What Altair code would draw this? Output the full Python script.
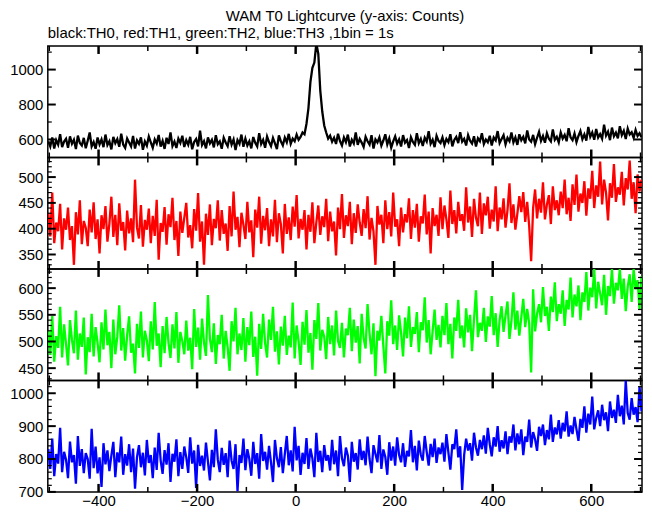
import altair as alt
import pandas as pd

# time bins (s), 4-s sampling of the 1-s light curve
T0 = -502
BIN = 4

TH0 = [590, 560, 612, 548, 596, 570, 630, 556, 588, 604,
       552, 618, 575, 598, 545, 622, 580, 566, 609, 550,
       593, 640, 560, 585, 547, 611, 572, 600, 556, 628,
       568, 590, 543, 615, 579, 602, 558, 633, 571, 552,
       606, 583, 560, 620, 548, 595, 575, 612, 541, 589,
       565, 617, 584, 553, 600, 577, 626, 559, 592, 546,
       610, 574, 640, 562, 588, 551, 605, 580, 621, 557,
       596, 570, 615, 544, 586, 603, 560, 650, 568, 590,
       549, 612, 578, 598, 555, 624, 573, 589, 547, 610,
       583, 562, 619, 571, 600, 540, 596, 575, 628, 558,
       605, 566, 590, 549, 614, 581, 560, 636, 574, 598,
       553, 617, 585, 562, 609, 578, 545, 623, 590, 566,
       611, 584, 632, 575, 605, 590, 628, 598, 615, 640,
       630, 690, 780, 930, 1010, 1040, 1150, 1090, 880, 760,
       680, 640, 605, 622, 587, 610, 574, 633, 591, 566,
       612, 585, 628, 560, 598, 577, 640, 569, 603, 582,
       557, 615, 590, 571, 624, 548, 600, 583, 612, 565,
       594, 630, 572, 606, 553, 589, 618, 576, 601, 560,
       625, 582, 597, 551, 613, 586, 570, 636, 579, 604,
       563, 610, 588, 647, 575, 598, 556, 621, 592, 580,
       612, 568, 603, 585, 630, 561, 597, 615, 579, 642,
       588, 604, 566, 625, 593, 577, 618, 560, 607, 590,
       636, 574, 600, 584, 621, 566, 611, 595, 648, 580,
       603, 625, 572, 609, 590, 640, 583, 612, 569, 630,
       596, 615, 578, 652, 600, 587, 626, 573, 610, 644,
       592, 620, 581, 636, 604, 589, 658, 598, 615, 583,
       640, 605, 626, 590, 664, 612, 596, 634, 585, 620,
       648, 601, 629, 593, 672, 615, 640, 598, 660, 611,
       631, 604, 685, 622, 645, 596, 668, 618, 639, 607,
       676, 625, 650, 603, 662, 628, 641, 610, 655, 620, 636, 612]

TH1 = [430, 385, 470, 372, 412, 395, 448, 360, 420, 398,
       441, 378, 405, 330, 432, 389, 455, 370, 415, 402,
       366, 437, 393, 451, 380, 418, 352, 426, 399, 444,
       375, 410, 462, 384, 427, 368, 449, 396, 413, 358,
       435, 391, 420, 374, 495, 402, 381, 446, 365, 417,
       398, 439, 372, 425, 386, 456, 340, 411, 394, 442,
       369, 428, 403, 460, 378, 415, 347, 433, 392, 421,
       450, 383, 407, 362, 438, 396, 469, 375, 414, 330,
       429, 388, 447, 368, 419, 401, 455, 377, 436, 390,
       410, 357, 444, 385, 472, 398, 423, 364, 431, 408,
       380, 452, 393, 416, 345, 437, 402, 462, 371, 425,
       397, 440, 366, 418, 385, 456, 374, 430, 409, 352,
       448, 390, 422, 378, 443, 404, 465, 381, 419, 398,
       436, 360, 427, 394, 451, 372, 412, 445, 388, 424,
       403, 458, 376, 433, 395, 414, 348, 441, 399, 467,
       382, 426, 405, 452, 370, 430, 392, 447, 412, 386,
       438, 401, 463, 379, 421, 395, 330, 444, 408, 427,
       372, 455, 399, 432, 385, 470, 404, 418, 366, 441,
       393, 428, 412, 459, 380, 436, 402, 448, 375, 424,
       410, 466, 389, 433, 352, 440, 405, 427, 386, 461,
       399, 445, 418, 382, 474, 409, 436, 391, 452, 415,
       428, 396, 480, 412, 443, 384, 458, 421, 405, 470,
       390, 449, 426, 462, 400, 437, 414, 482, 395, 441,
       418, 459, 402, 436, 488, 411, 447, 398, 429, 463,
       432, 471, 413, 452, 405, 337, 440, 476, 420, 458,
       431, 490, 418, 447, 465, 409, 482, 436, 455, 426,
       472, 440, 495, 428, 460, 415, 486, 446, 505, 433,
       468, 450, 492, 425, 478, 458, 512, 440, 484, 462,
       530, 447, 495, 470, 416, 488, 460, 525, 452, 480,
       466, 510, 445, 498, 476, 532, 458, 490, 430, 505, 472, 495]

TH2 = [520, 475, 548, 462, 510, 488, 565, 470, 532, 495,
       455, 540, 503, 478, 558, 466, 515, 490, 545, 438,
       508, 480, 552, 472, 527, 497, 461, 536, 485, 560,
       493, 518, 450, 541, 476, 509, 568, 483, 525, 464,
       512, 547, 479, 496, 440, 533, 488, 556, 470, 520,
       502, 463, 538, 485, 574, 492, 515, 452, 529, 478,
       546, 497, 469, 532, 487, 555, 460, 518, 501, 476,
       539, 483, 507, 448, 561, 490, 526, 466, 543, 498,
       473, 587, 505, 480, 534, 458, 512, 495, 550, 468,
       520, 489, 445, 538, 500, 563, 476, 515, 484, 544,
       462, 527, 493, 556, 471, 509, 436, 533, 486, 552,
       497, 470, 541, 503, 565, 481, 519, 457, 528, 492,
       548, 475, 511, 489, 573, 468, 530, 500, 456, 537,
       494, 559, 479, 516, 447, 540, 505, 572, 483, 522,
       509, 467, 546, 495, 530, 474, 558, 501, 488, 535,
       470, 524, 512, 563, 482, 541, 498, 529, 459, 552,
       506, 487, 570, 515, 476, 534, 435, 520, 502, 548,
       491, 440, 538, 511, 577, 495, 530, 484, 549, 516,
       472, 545, 506, 566, 490, 527, 514, 555, 480, 536,
       521, 583, 498, 540, 476, 519, 560, 503, 531, 489,
       548, 512, 572, 495, 533, 468, 545, 520, 578, 506,
       530, 489, 562, 517, 550, 482, 541, 596, 508, 535,
       520, 563, 499, 547, 528, 585, 512, 553, 490, 540,
       566, 518, 549, 575, 505, 538, 592, 522, 558, 511,
       545, 580, 527, 561, 534, 442, 598, 519, 552, 570,
       536, 602, 548, 565, 520, 584, 555, 611, 538, 570,
       552, 596, 529, 578, 560, 620, 545, 588, 566, 605,
       540, 592, 574, 630, 558, 601, 583, 636, 562, 612,
       590, 568, 625, 550, 604, 585, 636, 571, 610, 596,
       636, 580, 618, 557, 603, 626, 574, 636, 598, 615, 560, 622]

TH3 = [830, 770, 862, 748, 815, 786, 895, 760, 822, 798,
       742, 853, 790, 812, 725, 870, 779, 830, 757, 818,
       800, 740, 892, 772, 838, 756, 805, 715, 848, 784,
       826, 763, 810, 852, 745, 820, 790, 868, 752, 815,
       780, 845, 760, 832, 710, 806, 842, 775, 819, 750,
       858, 788, 812, 742, 835, 767, 880, 796, 755, 827,
       783, 848, 730, 816, 792, 860, 748, 821, 770, 838,
       805, 758, 866, 786, 826, 712, 843, 779, 810, 765,
       850, 792, 735, 828, 775, 890, 798, 760, 834, 782,
       818, 745, 856, 795, 770, 845, 702, 812, 788, 862,
       766, 830, 800, 749, 852, 785, 818, 740, 876, 794,
       822, 768, 840, 790, 730, 858, 802, 775, 836, 757,
       815, 870, 781, 826, 762, 898, 796, 840, 752, 819,
       785, 864, 770, 832, 802, 745, 880, 791, 825, 760,
       842, 795, 812, 765, 858, 784, 826, 748, 870, 802,
       778, 835, 810, 730, 852, 792, 818, 768, 860, 797,
       825, 781, 868, 800, 757, 842, 815, 790, 873, 770,
       829, 806, 752, 851, 795, 838, 780, 866, 812, 790,
       848, 776, 825, 808, 888, 790, 840, 765, 856, 813,
       795, 870, 822, 780, 846, 806, 862, 788, 835, 815,
       850, 792, 876, 820, 768, 845, 830, 890, 805, 839,
       706, 812, 862, 826, 848, 795, 880, 835, 810, 858,
       830, 872, 816, 895, 845, 808, 866, 838, 900, 822,
       857, 832, 884, 815, 869, 850, 905, 826, 878, 845,
       890, 812, 868, 852, 920, 835, 882, 860, 825, 898,
       870, 905, 842, 888, 860, 935, 852, 896, 875, 918,
       862, 910, 884, 945, 868, 902, 876, 928, 890, 855,
       922, 895, 960, 880, 938, 905, 990, 890, 925, 948,
       900, 965, 918, 942, 885, 975, 925, 950, 910, 995,
       930, 962, 905, 1039, 940, 920, 985, 935, 958, 912, 1020, 945]

X_DOMAIN = [-503, 703]
X_LABELS = [-400, -200, 0, 200, 400, 600]
X_MINOR = [-500, -300, -100, 100, 300, 500, 700]

PANELS = [
    # values, colour, y-domain, y labels, y minor ticks
    (TH0, "#000000", [497, 1135], [600, 800, 1000], [700, 900, 1100]),
    (TH1, "#ff0000", [322, 538], [350, 400, 450, 500],
     [330, 340, 360, 370, 380, 390, 410, 420, 430, 440, 460, 470, 480, 490, 510, 520, 530]),
    (TH2, "#00ff00", [427, 636], [450, 500, 550, 600],
     [430, 440, 460, 470, 480, 490, 510, 520, 530, 540, 560, 570, 580, 590, 610, 620, 630]),
    (TH3, "#0000ff", [700, 1039], [700, 800, 900, 1000],
     [720, 740, 760, 780, 820, 840, 860, 880, 920, 940, 960, 980, 1020]),
]

W = 597
H = 112
FONT = "Liberation Sans"


def panel(vals, color, ydom, ylabels, yminor, show_x, title=None):
    df = pd.DataFrame({"t": [T0 + BIN * i for i in range(len(vals))], "c": vals})
    xs = alt.Scale(domain=X_DOMAIN, nice=False, zero=False)
    ys = alt.Scale(domain=ydom, nice=False, zero=False)
    if show_x:
        xaxis = alt.Axis(values=X_LABELS, ticks=False, domain=False, grid=False, title=None,
                         labelFontSize=15, labelFont=FONT, labelColor="black", labelPadding=2,
                         labelOverlap=False, labelFlush=False, format="d")
    else:
        xaxis = None
    yaxis = alt.Axis(values=ylabels, ticks=False, domain=False, grid=False, title=None,
                     labelFontSize=15, labelFont=FONT, labelColor="black", labelPadding=5,
                     labelOverlap=False, labelFlush=False, format="d")
    line = alt.Chart(df).mark_line(color=color, strokeWidth=2.3, clip=True).encode(
        x=alt.X("t:Q", scale=xs, axis=xaxis),
        y=alt.Y("c:Q", scale=ys, axis=yaxis),
    )
    ymaj = pd.DataFrame({"v": ylabels})
    ymin = pd.DataFrame({"v": yminor})
    xmaj = pd.DataFrame({"v": X_LABELS})
    xmin = pd.DataFrame({"v": X_MINOR})
    layers = [line]
    for d, ln, sw in [(ymaj, 8, 2), (ymin, 4, 1.2)]:
        layers.append(alt.Chart(d).mark_rule(color="black", strokeWidth=sw).encode(
            y=alt.Y("v:Q", scale=ys, axis=yaxis), x=alt.value(0), x2=alt.value(ln)))
        layers.append(alt.Chart(d).mark_rule(color="black", strokeWidth=sw).encode(
            y=alt.Y("v:Q", scale=ys, axis=yaxis), x=alt.value(W), x2=alt.value(W - ln)))
    for d, ln, sw in [(xmaj, 8, 2.5), (xmin, 5, 1.5)]:
        d2 = d[(d.v > X_DOMAIN[0]) & (d.v < X_DOMAIN[1])]
        layers.append(alt.Chart(d2).mark_rule(color="black", strokeWidth=sw).encode(
            x=alt.X("v:Q", scale=xs, axis=xaxis), y=alt.value(H), y2=alt.value(H - ln)))
        layers.append(alt.Chart(d2).mark_rule(color="black", strokeWidth=sw).encode(
            x=alt.X("v:Q", scale=xs, axis=xaxis), y=alt.value(0), y2=alt.value(ln)))
    props = dict(width=W, height=H)
    if title is not None:
        props["title"] = title
    return alt.layer(*layers).properties(**props)


charts = []
for k, (vals, color, ydom, ylab, ymin) in enumerate(PANELS):
    title = None
    if k == 0:
        title = alt.TitleParams("black:TH0, red:TH1, green:TH2, blue:TH3 ,1bin = 1s",
                                anchor="start", frame="group", fontSize=15, font=FONT,
                                fontWeight="normal", color="black", offset=4)
    charts.append(panel(vals, color, ydom, ylab, ymin, k == 3, title))

chart = alt.vconcat(*charts, spacing=0, bounds="flush").properties(
    title=alt.TitleParams("WAM T0 Lightcurve (y-axis: Counts)", anchor="middle", frame="group",
                          fontSize=15, font=FONT, fontWeight="normal", color="black", offset=1),
    padding={"left": 0, "top": 0, "right": 0, "bottom": -3},
    background="white",
).configure_view(stroke="black", strokeWidth=1.5).configure_axis(labelOverlap=False)

chart.save("out.html", embed_options={"renderer": "svg", "actions": False})
